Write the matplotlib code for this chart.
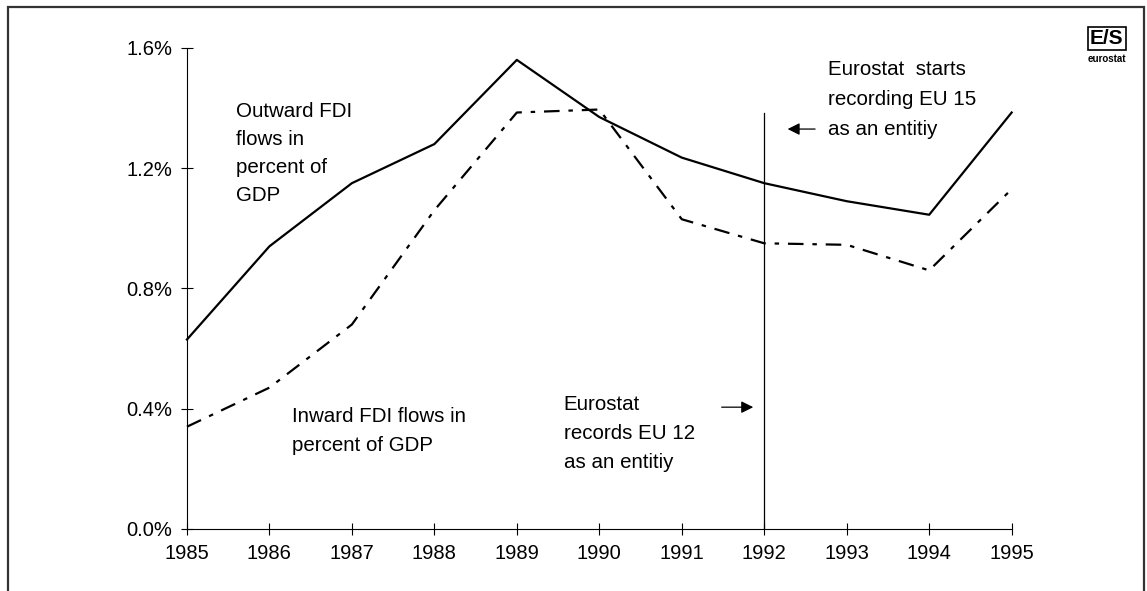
import matplotlib as mpl
mpl.use('Agg')
import matplotlib.pyplot as plt
import numpy as np

years = [1985, 1986, 1987, 1988, 1989, 1990, 1991, 1992, 1993, 1994, 1995]
outward = [0.63, 0.94, 1.15, 1.28, 1.56, 1.37, 1.235, 1.15, 1.09, 1.045, 1.385]
inward = [0.34, 0.47, 0.68, 1.06, 1.385, 1.395, 1.03, 0.95, 0.945, 0.86, 1.13]
yticks = [0.0, 0.4, 0.8, 1.2, 1.6]

plt.rcParams['font.family'] = ['Liberation Sans', 'DejaVu Sans']

fig = plt.figure(figsize=(11.47, 5.91), dpi=100)
ax = fig.add_axes([0.163, 0.105, 0.719, 0.814])

ax.plot(years, outward, color='black', lw=1.6, clip_on=False)
ax.plot(years, inward, color='black', lw=1.6, linestyle=(0, (7, 4, 2, 4)), clip_on=False)
ax.plot([1992, 1992], [0, 1.385], color='black', lw=0.9)

ax.set_xlim(1985, 1995)
ax.set_ylim(0, 1.6)
ax.set_xticks(years)
ax.set_yticks(yticks)
ax.set_yticklabels(['%.1f%%' % v for v in yticks])
ax.tick_params(direction='inout', length=9, width=0.8, labelsize=14.5, pad=6)
for s in ['top', 'right']:
    ax.spines[s].set_visible(False)
for s in ['left', 'bottom']:
    ax.spines[s].set_linewidth(0.8)

fs = 14.8
ax.text(1985.6, 1.42, 'Outward FDI\nflows in\npercent of\nGDP', fontsize=fs, va='top', linespacing=1.6)
ax.text(1986.27, 0.405, 'Inward FDI flows in\npercent of GDP', fontsize=fs, va='top', linespacing=1.65)
ax.text(1989.57, 0.445, 'Eurostat\nrecords EU 12\nas an entitiy', fontsize=fs, va='top', linespacing=1.65)
ax.text(1992.77, 1.56, 'Eurostat  starts\nrecording EU 15\nas an entitiy', fontsize=fs, va='top', linespacing=1.75)

ax.annotate('', xy=(1992.25, 1.33), xytext=(1992.65, 1.33),
            arrowprops=dict(arrowstyle='-|>', color='black', lw=0.9, mutation_scale=18))
ax.annotate('', xy=(1991.9, 0.405), xytext=(1991.45, 0.405),
            arrowprops=dict(arrowstyle='-|>', color='black', lw=0.9, mutation_scale=18))

# eurostat logo
fig.text(0.965, 0.935, 'E/S', fontsize=15, fontweight='bold', ha='center', va='center',
         bbox=dict(boxstyle='square,pad=0.1', fc='white', ec='black', lw=1.2))
fig.text(0.965, 0.9, 'eurostat', fontsize=7, fontweight='bold', ha='center', va='center')

# frame
fig.add_artist(plt.Rectangle((0.007, -0.01), 0.99, 0.998, transform=fig.transFigure,
                             fill=False, ec='#333333', lw=1.6))

fig.savefig('out.png', dpi=100)
